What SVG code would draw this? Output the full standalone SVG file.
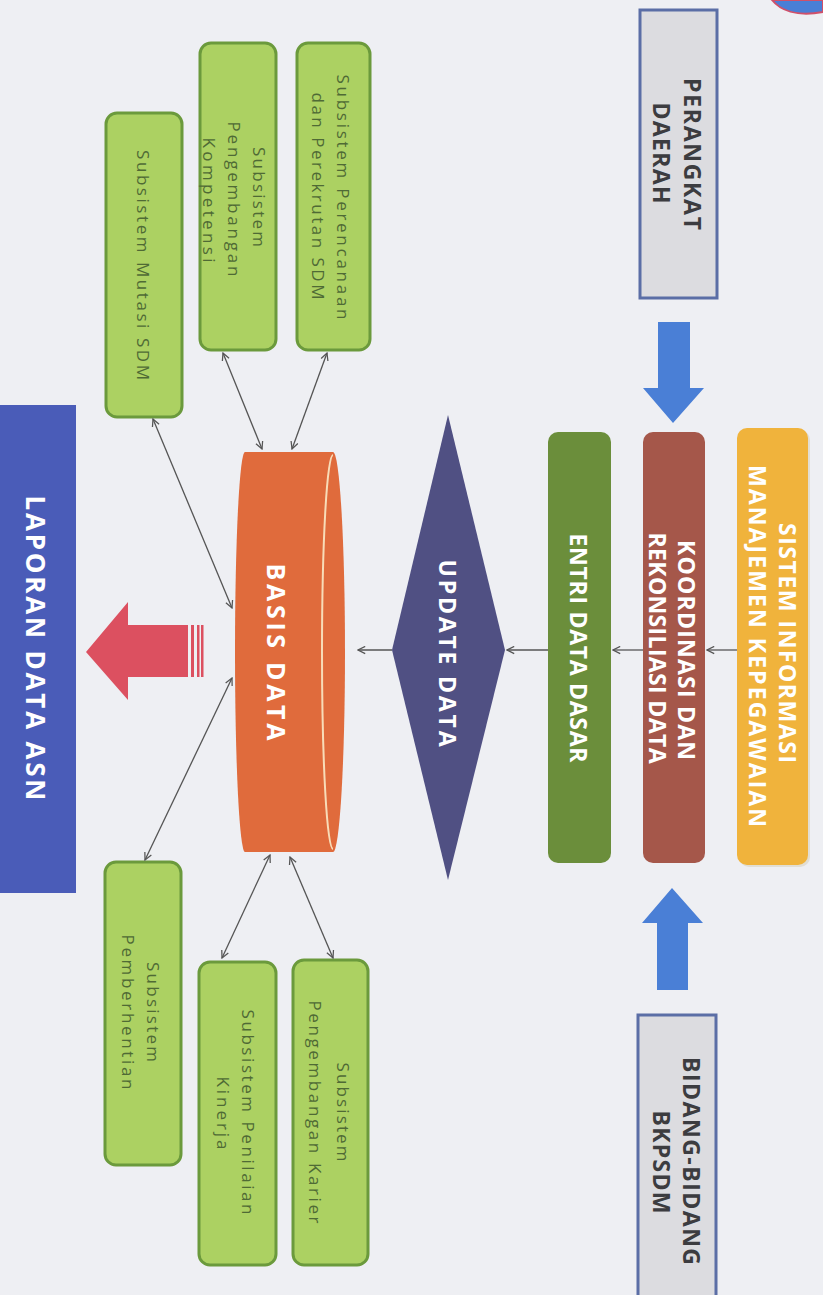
<svg xmlns="http://www.w3.org/2000/svg" width="823" height="1295" viewBox="0 0 823 1295">
<defs>
<style>
.bold{font-family:"Open Sans","Liberation Sans",sans-serif;font-weight:bold;font-size:23px;fill:#ffffff;text-anchor:middle;dominant-baseline:central}
.big{font-size:26px}
.dark{fill:#3c3c40}
.sub{font-family:"Open Sans","Liberation Sans",sans-serif;font-size:17px;fill:#4f6a35;text-anchor:middle;dominant-baseline:central}
.green{fill:#acd162;stroke:#6b9a3c;stroke-width:3}
.gray{fill:#dcdce0;stroke:#5b6ea6;stroke-width:3}
.con{stroke:#555;stroke-width:1.3;fill:none}
</style>
<marker id="ah" viewBox="0 0 10 10" refX="9" refY="5" markerWidth="9" markerHeight="9" markerUnits="userSpaceOnUse" orient="auto-start-reverse">
<path d="M1,1 L9,5 L1,9" fill="none" stroke="#555" stroke-width="1.4"/>
</marker>
</defs>
<rect width="823" height="1295" fill="#eeeff3"/>
<path d="M772,0 C780,10 796,17 823,12 L823,0 Z" fill="#4a7fd6" stroke="#d0506a" stroke-width="2"/>

<g id="perangkat-daerah">
<rect class="gray" x="640" y="10" width="77" height="288"/>
<text class="bold dark" transform="translate(693,154) rotate(90)" textLength="152" lengthAdjust="spacing">PERANGKAT</text>
<text class="bold dark" transform="translate(662,153) rotate(90)" textLength="101" lengthAdjust="spacing">DAERAH</text>
</g>

<g id="bidang-bkpsdm">
<rect class="gray" x="638" y="1015" width="78" height="290"/>
<text class="bold dark" transform="translate(692,1161) rotate(90)" textLength="208" lengthAdjust="spacing">BIDANG-BIDANG</text>
<text class="bold dark" transform="translate(662,1162) rotate(90)" textLength="103" lengthAdjust="spacing">BKPSDM</text>
</g>

<g id="arrow-down-blue">
<path d="M658,322 L690,322 L690,388 L704,388 L673,423 L643,388 L658,388 Z" fill="#4a7fd6"/>
</g>
<g id="arrow-up-blue">
<path d="M657,990 L688,990 L688,923 L703,923 L672,888 L642,923 L657,923 Z" fill="#4a7fd6"/>
</g>

<g id="sistem-informasi">
<rect x="739" y="430" width="71" height="437" rx="10" fill="#d9d2c0" opacity="0.6"/>
<rect x="737" y="428" width="71" height="437" rx="10" fill="#f0b33c"/>
<text class="bold" transform="translate(788,643) rotate(90)" textLength="240" lengthAdjust="spacing">SISTEM INFORMASI</text>
<text class="bold" transform="translate(758,646) rotate(90)" textLength="362" lengthAdjust="spacing">MANAJEMEN KEPEGAWAIAN</text>
</g>

<g id="koordinasi">
<rect x="643" y="432" width="62" height="431" rx="10" fill="#a5574a"/>
<text class="bold" transform="translate(687,650) rotate(90)" textLength="220" lengthAdjust="spacing">KOORDINASI DAN</text>
<text class="bold" transform="translate(658,648) rotate(90)" textLength="231" lengthAdjust="spacing">REKONSILIASI DATA</text>
</g>

<g id="entri-data">
<rect x="548" y="432" width="63" height="431" rx="10" fill="#6b8e3b"/>
<text class="bold" transform="translate(579,648) rotate(90)" textLength="229" lengthAdjust="spacing">ENTRI DATA DASAR</text>
</g>

<g id="update-data">
<polygon points="448,415 505,650 448,880 392,650" fill="#505083"/>
<text class="bold" transform="translate(448,653) rotate(90)" textLength="187" lengthAdjust="spacing">UPDATE DATA</text>
</g>

<g id="basis-data">
<path d="M245,452 L333,452 A12 200 0 0 1 333,852 L245,852 A10 200 0 0 1 245,452 Z" fill="#e06b3c"/>
<path d="M333,455 A11 197 0 0 0 333,849" fill="none" stroke="#f8dcb8" stroke-width="2"/>
<text class="bold" style="font-size:25px" transform="translate(277,652) rotate(90)" textLength="177" lengthAdjust="spacing">BASIS DATA</text>
</g>

<g id="arrow-red">
<path d="M86,652 L128,602 L128,625 L188,625 L188,677 L128,677 L128,700 Z" fill="#dc5060"/>
<rect x="191" y="625" width="3" height="52" fill="#dc5060"/>
<rect x="197" y="625" width="2.5" height="52" fill="#dc5060"/>
<rect x="201" y="625" width="2.5" height="52" fill="#dc5060"/>
</g>

<g id="laporan">
<rect x="0" y="405" width="76" height="488" fill="#4a5cb8"/>
<text class="bold big" transform="translate(36,648) rotate(90)" textLength="305" lengthAdjust="spacing">LAPORAN DATA ASN</text>
</g>

<g id="sub-perencanaan">
<rect class="green" x="297" y="43" width="73" height="307" rx="11"/>
<text class="sub" transform="translate(343,197) rotate(90)" textLength="245" lengthAdjust="spacing">Subsistem Perencanaan</text>
<text class="sub" transform="translate(318,196) rotate(90)" textLength="207" lengthAdjust="spacing">dan Perekrutan SDM</text>
</g>

<g id="sub-kompetensi">
<rect class="green" x="200" y="43" width="76" height="307" rx="11"/>
<text class="sub" transform="translate(259,197) rotate(90)" textLength="100" lengthAdjust="spacing">Subsistem</text>
<text class="sub" transform="translate(234,199) rotate(90)" textLength="155" lengthAdjust="spacing">Pengembangan</text>
<text class="sub" transform="translate(209,200) rotate(90)" textLength="125" lengthAdjust="spacing">Kompetensi</text>
</g>

<g id="sub-mutasi">
<rect class="green" x="106" y="113" width="76" height="304" rx="11"/>
<text class="sub" transform="translate(143,265) rotate(90)" textLength="230" lengthAdjust="spacing">Subsistem Mutasi SDM</text>
</g>

<g id="sub-pemberhentian">
<rect class="green" x="105" y="862" width="76" height="303" rx="11"/>
<text class="sub" transform="translate(153,1012) rotate(90)" textLength="100" lengthAdjust="spacing">Subsistem</text>
<text class="sub" transform="translate(128,1012) rotate(90)" textLength="155" lengthAdjust="spacing">Pemberhentian</text>
</g>

<g id="sub-kinerja">
<rect class="green" x="199" y="962" width="77" height="303" rx="11"/>
<text class="sub" transform="translate(248,1112) rotate(90)" textLength="205" lengthAdjust="spacing">Subsistem Penilaian</text>
<text class="sub" transform="translate(223,1113) rotate(90)" textLength="73" lengthAdjust="spacing">Kinerja</text>
</g>

<g id="sub-karier">
<rect class="green" x="293" y="960" width="75" height="305" rx="11"/>
<text class="sub" transform="translate(343,1112) rotate(90)" textLength="99" lengthAdjust="spacing">Subsistem</text>
<text class="sub" transform="translate(315,1112) rotate(90)" textLength="223" lengthAdjust="spacing">Pengembangan Karier</text>
</g>

<g id="connectors">
<path class="con" d="M737,650 L707,650" marker-end="url(#ah)"/>
<path class="con" d="M643,650 L613,650" marker-end="url(#ah)"/>
<path class="con" d="M548,650 L507,650" marker-end="url(#ah)"/>
<path class="con" d="M392,650 L358,650" marker-end="url(#ah)"/>
<path class="con" d="M327,353 L292,449" marker-start="url(#ah)" marker-end="url(#ah)"/>
<path class="con" d="M223,353 L262,449" marker-start="url(#ah)" marker-end="url(#ah)"/>
<path class="con" d="M153,419 L232,608" marker-start="url(#ah)" marker-end="url(#ah)"/>
<path class="con" d="M145,860 L232,678" marker-start="url(#ah)" marker-end="url(#ah)"/>
<path class="con" d="M222,958 L270,855" marker-start="url(#ah)" marker-end="url(#ah)"/>
<path class="con" d="M333,958 L290,857" marker-start="url(#ah)" marker-end="url(#ah)"/>
</g>
</svg>
